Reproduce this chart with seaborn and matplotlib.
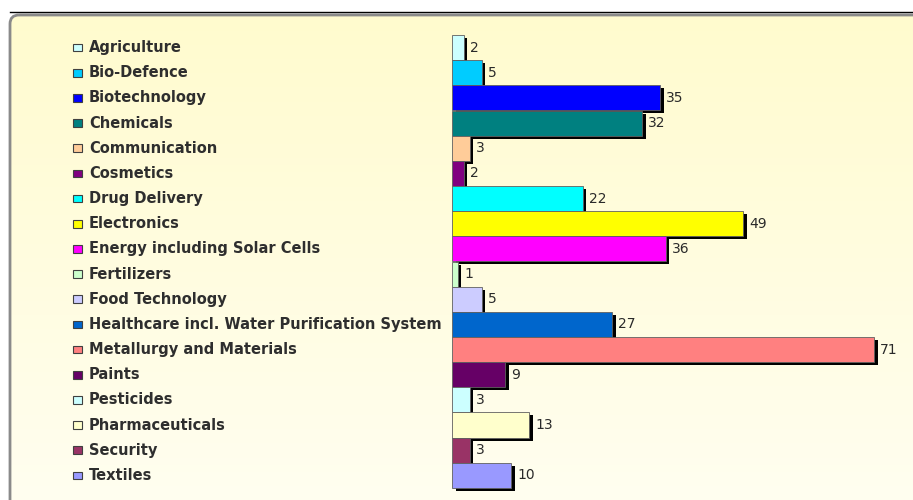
import numpy as np
import matplotlib
matplotlib.use("Agg")
import matplotlib.pyplot as plt
import matplotlib.transforms as mtransforms
from matplotlib.patches import FancyBboxPatch, Rectangle
import seaborn as sns

categories = ["Agriculture", "Bio-Defence", "Biotechnology", "Chemicals",
              "Communication", "Cosmetics", "Drug Delivery", "Electronics",
              "Energy including Solar Cells", "Fertilizers", "Food Technology",
              "Healthcare incl. Water Purification System",
              "Metallurgy and Materials", "Paints", "Pesticides",
              "Pharmaceuticals", "Security", "Textiles"]
values = [2, 5, 35, 32, 3, 2, 22, 49, 36, 1, 5, 27, 71, 9, 3, 13, 3, 10]
colors = ["#CCFFFF", "#00CCFF", "#0000FF", "#008080", "#FFCC99", "#800080",
          "#00FFFF", "#FFFF00", "#FF00FF", "#CCFFCC", "#CCCCFF", "#0066CC",
          "#FF8080", "#660066", "#CCFFFF", "#FFFFCC", "#993366", "#9999FF"]

W, H = 913, 500
fig = plt.figure(figsize=(W / 100, H / 100), dpi=100)
fig.patch.set_facecolor("white")

# background panel with soft yellow gradient
bg = fig.add_axes([0, 0, 1, 1], zorder=0)
bg.set_axis_off()
panel = FancyBboxPatch((10, 15), 1000, 600, boxstyle="round,pad=0,rounding_size=9",
                       fc="none", ec="#8a8a8a", lw=2, zorder=3)
bg.add_patch(panel)
top, bot = np.array([255, 251, 206]) / 255, np.array([255, 255, 248]) / 255
t = np.linspace(0, 1, 256)[:, None, None]
grad = top * (1 - t) + bot * t
im = bg.imshow(grad, extent=[10, 1010, 615, 15], aspect="auto", zorder=1)
im.set_clip_path(panel)
bg.plot([10, W], [11.5, 11.5], color="black", lw=1, zorder=4)
bg.set_xlim(0, W)
bg.set_ylim(H, 0)

# bar area
ax = fig.add_axes([452 / W, 12 / H, 453 / W, 453 / H], zorder=2)
ax.patch.set_alpha(0)

sns.barplot(x=values, y=categories, hue=categories,
            palette=dict(zip(categories, colors)), legend=False, orient="h",
            width=1.0, saturation=1, errorbar=None, edgecolor="#606060",
            linewidth=0.6, ax=ax)

# black drop shadow behind each bar
shift = mtransforms.ScaledTranslation(0.035, -0.03, fig.dpi_scale_trans)
for p in list(ax.patches):
    p.set_zorder(3)
    p.set_clip_on(False)
    ax.add_patch(Rectangle(p.get_xy(), p.get_width(), p.get_height(),
                           transform=ax.transData + shift, fc="black",
                           ec="none", zorder=2, clip_on=False))

for i, v in enumerate(values):
    ax.annotate(str(v), (v, i), xytext=(6, 0), textcoords="offset pixels",
                va="center", ha="left", fontsize=10, color="#2a2a2a",
                family="DejaVu Sans", annotation_clip=False)

ax.set_xlim(0, 453 / (422 / 71))
ax.set_ylim(len(categories) - 0.5, -0.5)
ax.set_axis_off()

# legend-style labels on the left
trans = mtransforms.blended_transform_factory(fig.transFigure, ax.transData)
for i, (cat, c) in enumerate(zip(categories, colors)):
    ax.add_patch(Rectangle((73 / W, i - 0.15), 9 / W, 0.3, transform=trans,
                           fc=c, ec="#404040", lw=0.8, clip_on=False))
    ax.text(89 / W, i, cat, transform=trans, va="center", ha="left",
            fontsize=10.5, fontweight="bold", color="#2e2e2e",
            family="DejaVu Sans")

fig.savefig("out.png", dpi=100)
